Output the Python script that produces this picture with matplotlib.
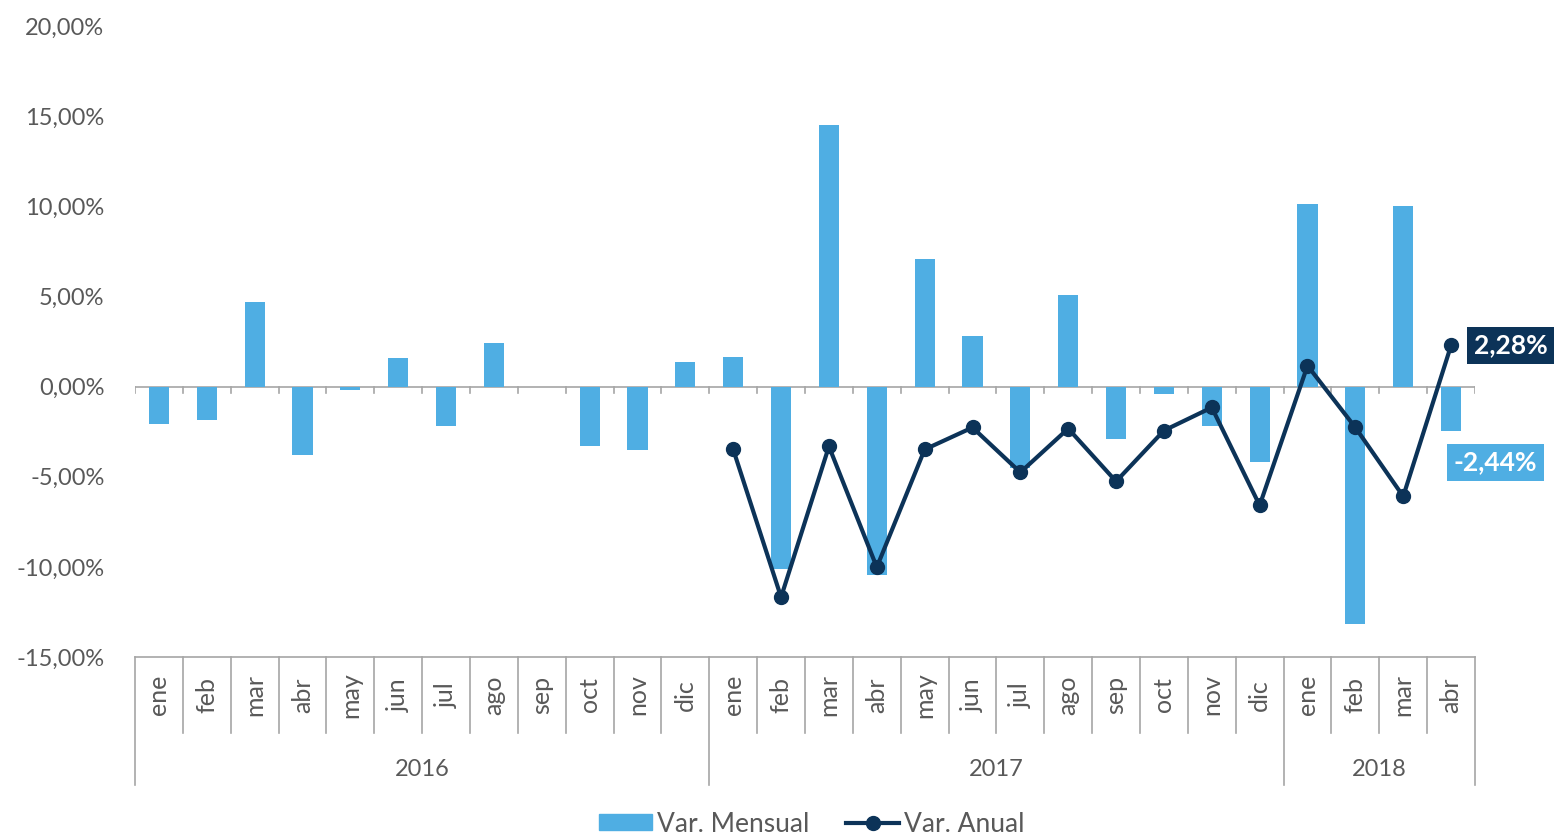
import matplotlib
matplotlib.use("Agg")
import matplotlib.pyplot as plt
from matplotlib.lines import Line2D
from matplotlib.patches import Patch
import numpy as np

# months / years
meses = ["ene", "feb", "mar", "abr", "may", "jun", "jul", "ago", "sep", "oct", "nov", "dic",
         "ene", "feb", "mar", "abr", "may", "jun", "jul", "ago", "sep", "oct", "nov", "dic",
         "ene", "feb", "mar", "abr"]
anios = ["2016", "2017", "2018"]
meses_por_anio = [12, 12, 4]

# monthly variation (%)
var_mensual = [-2.05, -1.83, 4.70, -3.82, -0.17, 1.60, -2.16, 2.44, -0.05, -3.27, -3.54, 1.38,
               1.66, -10.10, 14.50, -10.47, 7.09, 2.82, -4.49, 5.09, -2.93, -0.39, -2.21, -4.21,
               10.13, -13.18, 10.02, -2.44]
# annual variation (%), starts in ene 2017
var_anual = [-3.49, -11.68, -3.32, -10.02, -3.49, -2.27, -4.76, -2.33, -5.26, -2.44, -1.16, -6.59,
             1.16, -2.27, -6.09, 2.28]

celeste = "#4FAEE3"
azul = "#0C3358"
gris = "#595959"
linea = "#A6A6A6"

plt.rcParams['font.family'] = ['Lato', 'DejaVu Sans']

fig = plt.figure(figsize=(15.55, 8.36), dpi=100)
ax = fig.add_axes([135 / 1555, 1 - 657 / 836, 1340 / 1555, 631 / 836])

x = np.arange(len(meses))
ax.bar(x, var_mensual, width=0.42, color=celeste, zorder=2)
xa = np.arange(12, 12 + len(var_anual))
ax.plot(xa, var_anual, color=azul, lw=3, marker="o", ms=10, zorder=3)

ax.set_xlim(-0.5, len(meses) - 0.5)
ax.set_ylim(-15, 20)
ax.set_yticks(np.arange(-15, 21, 5))
ax.set_yticklabels([f"{v:.2f}%".replace(".", ",") for v in np.arange(-15, 21, 5)])
ax.tick_params(axis="y", length=0, labelsize=17, labelcolor=gris, pad=22)
ax.set_xticks([])
for s in ["top", "right", "left"]:
    ax.spines[s].set_visible(False)
ax.spines["bottom"].set_color(linea)
ax.spines["bottom"].set_linewidth(1.2)

# zero line with small ticks
ax.axhline(0, color=linea, lw=1.2, zorder=1)
for b in np.arange(-0.5, len(meses)):
    ax.plot([b, b], [0, -0.35], color=linea, lw=1.2, zorder=1)

# category axis (two levels)
trans = ax.get_xaxis_transform()
px = 1 / 631  # one pixel in axes fraction
limites_anio = np.cumsum([0] + meses_por_anio) - 0.5
for b in np.arange(-0.5, len(meses)):
    bajo = -128 * px if b in limites_anio else -76 * px
    ax.plot([b, b], [0, bajo], color=linea, lw=1.2, transform=trans, clip_on=False)
for i, m in enumerate(meses):
    ax.text(i, -38 * px, m, rotation=90, ha="center", va="center", fontsize=18,
            color=gris, transform=trans)
for k, a in enumerate(anios):
    centro = (limites_anio[k] + limites_anio[k + 1]) / 2
    ax.text(centro, -112 * px, a, ha="center", va="center", fontsize=17,
            color=gris, transform=trans)

# data labels on last month
ax.annotate("2,28%", (xa[-1], var_anual[-1]), xytext=(43, 0), textcoords="offset points",
            ha="center", va="center", fontsize=19, fontweight="bold", color="white",
            bbox=dict(boxstyle="square,pad=0.25", fc=azul, ec="none"))
ax.annotate("-2,44%", (x[-1], var_mensual[-1]), xytext=(32, -23), textcoords="offset points",
            ha="center", va="center", fontsize=19, fontweight="bold", color="white",
            bbox=dict(boxstyle="square,pad=0.25", fc=celeste, ec="none"))

handles = [Patch(color=celeste, label="Var. Mensual"),
           Line2D([0], [0], color=azul, lw=3, marker="o", ms=10, label="Var. Anual")]
fig.legend(handles=handles, loc="center", bbox_to_anchor=(0.522, 1 - 824 / 836), ncol=2,
           frameon=False, fontsize=19, labelcolor=gris, handlelength=2.0, handletextpad=0.2,
           columnspacing=1.4, handleheight=0.55)

fig.savefig("out.png", dpi=100)
